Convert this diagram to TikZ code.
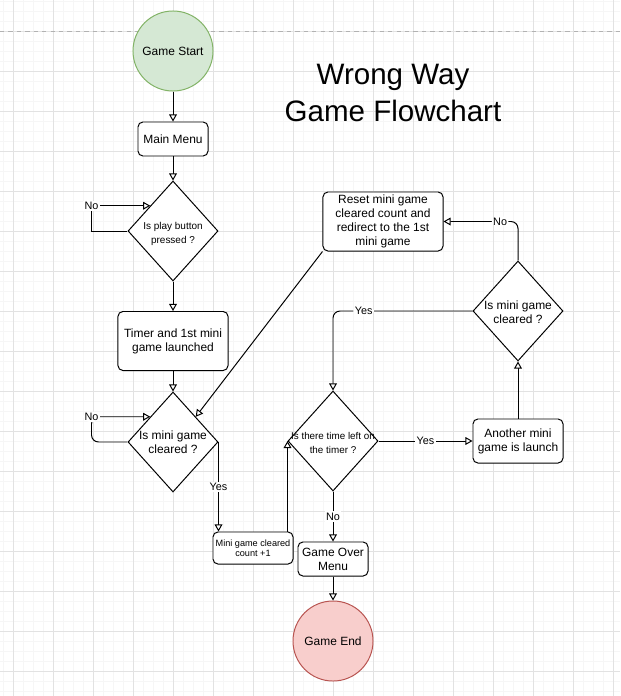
\documentclass[tikz,border=0pt]{standalone}
\usepackage{fontspec}
\setmainfont{Liberation Sans}
\usepackage{tikz}
\usetikzlibrary{shapes.geometric}
\usetikzlibrary{arrows.meta}
\definecolor{startfill}{HTML}{D5E8D4}
\definecolor{startline}{HTML}{82B366}
\definecolor{endfill}{HTML}{F8CECC}
\definecolor{endline}{HTML}{B85450}
\definecolor{gridmajor}{HTML}{E2E2E2}
\definecolor{gridminor}{HTML}{F6F6F6}
\tikzset{
    terminal/.style={circle, draw, line width=0.7pt, minimum size=2cm, inner sep=0pt,
        font=\fontsize{8.5}{10}\selectfont},
    process/.style={rectangle, draw=black, line width=0.7pt, rounded corners=3.5pt,
        fill=white, align=center, inner sep=1pt, font=\fontsize{8.5}{10}\selectfont},
    decision/.style={diamond, draw=black, line width=0.7pt, fill=white,
        minimum width=2.25cm, minimum height=2.5cm, inner sep=0pt},
    question/.style={align=center, inner sep=0pt, font=\fontsize{8.5}{10}\selectfont},
    flow/.style={draw=black, line width=0.7pt,
        -{Triangle[fill=white, length=5pt, width=5.5pt]}},
    answer/.style={fill=white, inner sep=1pt, font=\fontsize{7.7}{9}\selectfont}
}

\begin{document}
\begin{tikzpicture}[x=0.025cm, y=-0.025cm]
% page and grid
\fill[white] (0,0) rectangle (620,696);
\useasboundingbox (0,0) rectangle (620,696);
\foreach \gx in {3,13,...,613}
  \draw[gridminor, line width=0.5pt] (\gx,0) -- (\gx,696);
\foreach \gy in {1,11,...,691}
  \draw[gridminor, line width=0.5pt] (0,\gy) -- (620,\gy);
\foreach \gx in {13,53,...,613}
  \draw[gridmajor, line width=0.6pt] (\gx,0) -- (\gx,696);
\foreach \gy in {31,71,...,671}
  \draw[gridmajor, line width=0.6pt] (0,\gy) -- (620,\gy);
\draw[gray!60, dashed, line width=0.6pt] (0,31) -- (620,31);

\node[align=center, font=\fontsize{21}{27}\selectfont] (title) at (393,93)
  {Wrong Way\\Game Flowchart};

% left column
\node[terminal, fill=startfill, draw=startline] (start) at (173,51) {Game Start};
\node[process, minimum width=1.75cm, minimum height=0.85cm] (menu) at (173,139) {Main Menu};
\node[decision] (play) at (173,231) {};
\node[question, font=\fontsize{7.1}{10}\selectfont] (playq) at (173,234) {Is play button\\pressed ?};
\node[process, minimum width=2.75cm, minimum height=1.475cm] (timer) at (173,341)
  {Timer and 1st mini\\game launched};
\node[decision] (cleared) at (173,442) {};
\node[question] (clearedq) at (173,442) {Is mini game\\cleared ?};
\node[process, minimum width=2cm, minimum height=0.8cm, font=\fontsize{6.5}{7.5}\selectfont]
  (count) at (253,548) {Mini game cleared\\count +1};

% middle column
\node[decision] (timeq) at (333,441) {};
\node[question, font=\fontsize{7}{10}\selectfont] (timeqt) at (333,443)
  {Is there time left on\\the timer ?};
\node[process, minimum width=1.75cm, minimum height=0.85cm] (over) at (333,559) {Game Over\\Menu};
\node[terminal, fill=endfill, draw=endline] (end) at (333,641) {Game End};

% right column
\node[process, minimum width=2.25cm, minimum height=1.1cm] (another) at (518,441)
  {Another mini\\game is launch};
\node[decision] (again) at (518,311) {};
\node[question] (againq) at (518,312) {Is mini game\\cleared ?};
\node[process, minimum width=3cm, minimum height=1.475cm] (reset) at (383,221.5)
  {Reset mini game\\cleared count and\\redirect to the 1st\\mini game};

% connectors
\draw[flow] (start) -- (menu);
\draw[flow] (menu) -- (play);
\draw[flow] (play.west) -- ++(-36,0) |- node[answer]{No} (play.north west);
\draw[flow] (play) -- (timer);
\draw[flow] (timer) -- (cleared);
\draw[flow, rounded corners=5pt] (cleared.west) -- ++(-36,0) |- node[answer]{No} (cleared.north west);
\draw[flow] (cleared.east) -- node[answer]{Yes} (cleared.east |- count.north);
\draw[flow] (timeq.west |- count.north) -- (timeq.west);
\draw[flow] (timeq) -- node[answer]{No} (over);
\draw[flow] (over) -- (end);
\draw[flow] (timeq) -- node[answer]{Yes} (another);
\draw[flow] (another) -- (again);
\draw[flow, rounded corners=5pt] (again.west) -| node[answer, pos=0.39]{Yes} (timeq.north);
\draw[flow, rounded corners=5pt] (again.north) |- node[answer, pos=0.62]{No} (reset.east);
\draw[flow] (reset.south west) -- (cleared.north east);
\end{tikzpicture}
\end{document}
